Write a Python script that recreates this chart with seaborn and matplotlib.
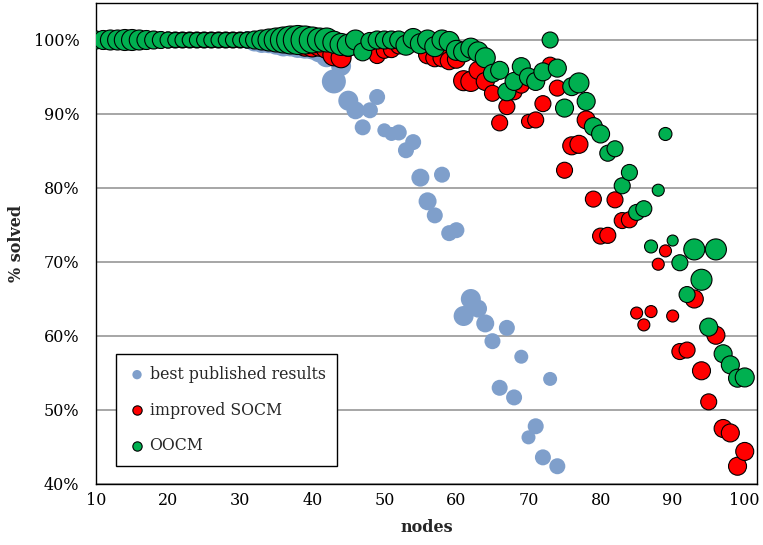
import numpy as np
import seaborn as sns
import matplotlib
matplotlib.use("Agg")
import matplotlib.pyplot as plt
from matplotlib.ticker import MultipleLocator, FuncFormatter

# nodes per series
nodes_pub = list(range(10, 75))
nodes_all = list(range(10, 101))

# % solved
pub_solved = [100, 100, 100, 100, 100, 100, 100, 100, 100, 100,
              100, 100, 100, 100, 100, 100, 100, 100, 100, 100, 100,
              100.0, 99.8, 99.6, 99.7, 99.5, 99.4, 99.4, 99.2, 99.1, 99.0,
              98.6, 97.8, 94.4, 96.5, 91.8, 90.5, 88.2, 90.5, 92.3, 87.8,
              87.3, 87.5, 85.1, 86.2, 81.4, 78.2, 76.3, 81.8, 73.9, 74.3,
              62.7, 65.0, 63.7, 61.7, 59.3, 53.0, 61.1, 51.7, 57.2, 46.3,
              47.8, 43.6, 54.2, 42.4]
socm_solved = [100, 100, 100, 100, 100, 100, 100, 100, 100, 100,
               100, 100, 100, 100, 100, 100, 100, 100, 100, 100,
               100, 100, 100, 100, 100, 100, 100, 100, 100,
               99.3, 99.2, 99.3, 99.0, 98.0, 97.6, 99.0, 99.3, 99.5, 99.6,
               97.9, 98.6, 98.7, 99.2, 99.4, 99.5, 99.5, 98.0, 97.6, 97.6,
               97.2, 97.4, 94.5, 94.4, 95.9, 94.4, 92.8, 88.8, 91.0, 93.0,
               93.9, 89.0, 89.2, 91.4, 96.6, 93.5, 82.4, 85.7, 85.9, 89.2,
               78.5, 73.5, 73.6, 78.4, 75.6, 75.7, 63.1, 61.5, 63.3, 69.7,
               71.5, 62.7, 57.9, 58.1, 65.0, 55.3, 51.1, 60.1, 47.5, 46.9,
               42.4, 44.4]
oocm_solved = [100, 100, 100, 100, 100, 100, 100, 100, 100, 100,
               100, 100, 100, 100, 100, 100, 100, 100, 100, 100,
               100, 100, 100, 100, 100, 100, 100, 100, 100, 100,
               100, 100, 100,
               99.7, 99.4, 99.3, 100.0, 98.4, 99.8, 100.0, 100.0, 100.0, 100.0,
               99.3, 100.2, 99.5, 100.0, 99.1, 100.0, 99.8, 98.6, 98.4, 98.9,
               98.4, 97.6, 95.5, 95.9, 93.0, 94.4, 96.4, 95.0, 94.4, 95.7,
               100.0, 96.2, 90.8, 93.7, 94.2, 91.7, 88.3, 87.3, 84.7, 85.3,
               80.3, 82.1, 76.7, 77.2, 72.1, 79.7, 87.3, 72.9, 69.9, 65.6,
               71.7, 67.6, 61.2, 71.7, 57.6, 56.1, 54.3, 54.4]

# bubble radius (px) per point
pub_size = [8, 8, 8, 8, 8, 8, 8, 8, 8, 8,
            8, 8, 8, 8, 8, 8, 8, 8, 8, 8, 8,
            9, 10, 10, 11, 11, 12, 12, 12, 12, 12,
            12, 11, 12, 10, 10, 9, 8, 8, 8, 7,
            7, 8, 8, 8, 9, 9, 8, 8, 8, 8,
            10, 10, 9, 9, 8, 8, 8, 8, 7, 7,
            8, 8, 7, 8]
socm_size = [8, 8, 8, 8, 8, 8, 8, 8, 8, 8,
             8, 8, 8, 8, 8, 8, 8, 8, 8, 8,
             8, 8, 8, 8, 8, 8, 8, 8, 8,
             11, 11, 11, 11, 11, 10, 9, 9, 9, 9,
             8, 8, 8, 8, 8, 8, 8, 9, 9, 9,
             9, 9, 10, 10, 9, 9, 8, 8, 8, 8,
             8, 7, 8, 8, 8, 8, 8, 9, 9, 9,
             8, 8, 8, 8, 8, 8, 6, 6, 6, 6,
             6, 6, 8, 8, 9, 9, 8, 9, 9, 9,
             9, 9]
oocm_size = [9, 9.5, 10, 10, 10.5, 10.5, 10, 9.5, 9, 8.5, 8,
             7.5, 7.5, 7.5, 7.5, 7.5, 7.5, 7.5, 7.5, 7.5, 7.5,
             8, 9, 10, 11, 12, 13, 14, 14.5, 14, 13, 12, 12,
             11, 11, 11, 10, 9, 9, 9, 9, 9, 9,
             10, 10, 10, 10, 10, 10, 10, 10, 10, 10,
             10, 10, 9, 9, 9, 9, 9, 9, 9, 9,
             8, 9, 9, 9, 10, 9, 9, 9, 8, 8,
             8, 8, 8, 8, 6.5, 6, 6.5, 5.5, 8, 8,
             10.5, 10.5, 9, 10.5, 9, 9, 9, 9.5]


def area(r):
    # px radius -> scatter size in pt^2 at dpi 100
    return (2 * 0.72 * np.asarray(r, dtype=float)) ** 2


sns.set_style("white")
plt.rcParams["font.family"] = ["DejaVu Serif"]

fig = plt.figure(figsize=(7.63, 5.45), dpi=100)
ax = fig.add_axes([96 / 763, 61 / 545, 661 / 763, 481 / 545])

sns.scatterplot(x=nodes_pub, y=pub_solved, s=area(pub_size), color="#7F9FCB",
                edgecolor="none", linewidth=0, label="best published results",
                ax=ax, zorder=2)
sns.scatterplot(x=nodes_all, y=socm_solved, s=area(socm_size), color="#FF0000",
                edgecolor="black", linewidth=0.8, label="improved SOCM",
                ax=ax, zorder=3)
sns.scatterplot(x=nodes_all, y=oocm_solved, s=area(oocm_size), color="#00B050",
                edgecolor="black", linewidth=0.8, label="OOCM",
                ax=ax, zorder=4)

ax.set_xlim(10, 101.7)
ax.set_ylim(40, 105)
ax.xaxis.set_major_locator(MultipleLocator(10))
ax.xaxis.set_minor_locator(MultipleLocator(2))
ax.yaxis.set_major_locator(MultipleLocator(10))
ax.yaxis.set_minor_locator(MultipleLocator(2))
ax.yaxis.set_major_formatter(FuncFormatter(lambda v, p: f"{v:.0f}%"))

ax.tick_params(which="major", direction="inout", length=8, width=1,
               labelsize=11.5, colors="black")
ax.tick_params(which="minor", direction="out", length=4, width=1)
ax.tick_params(axis="x", pad=2)
ax.tick_params(axis="y", pad=8)
ax.yaxis.grid(True, color="#A6A6A6", linewidth=1.4)
ax.set_axisbelow(True)
for sp in ax.spines.values():
    sp.set_color("black")
    sp.set_linewidth(1)

ax.set_xlabel("nodes", fontsize=11.5, fontweight="bold", labelpad=7)
ax.set_ylabel("% solved", fontsize=11.5, fontweight="bold", labelpad=6)

leg = ax.legend(loc="lower left", bbox_to_anchor=(0.03, 0.037), fontsize=11.3,
                frameon=True, fancybox=False, edgecolor="black",
                framealpha=1, borderpad=0.75, labelspacing=1.2,
                handlelength=1.2, handletextpad=0.2, borderaxespad=0)
leg.get_frame().set_linewidth(1)
for h in leg.legend_handles:
    h.set_sizes([45])

fig.savefig("out.png", dpi=100)
